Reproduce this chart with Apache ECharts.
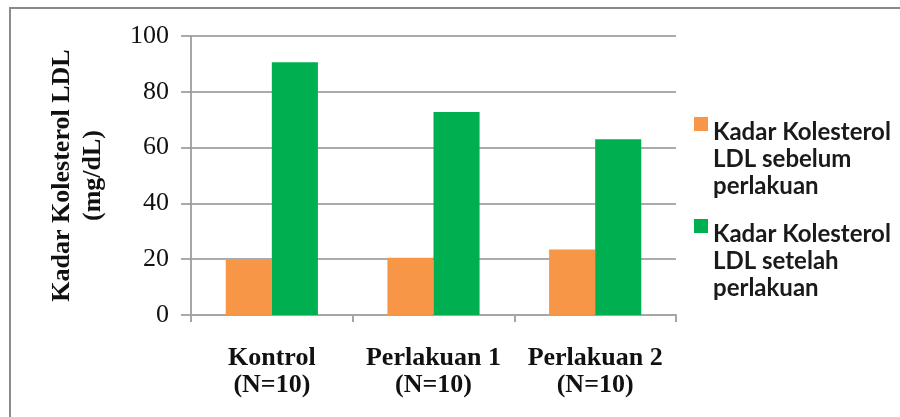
<!DOCTYPE html>
<html>
<head>
<meta charset="utf-8">
<script src="https://cdn.jsdelivr.net/npm/echarts@6/dist/echarts.min.js"></script>
<style>
  html, body { margin: 0; padding: 0; background: #ffffff; }
  #chart { width: 900px; height: 417px; }
</style>
</head>
<body>
<div id="chart"></div>
<script>
// Groups and LDL cholesterol levels (mg/dL), before and after treatment
const categories = ['Kontrol\n(N=10)', 'Perlakuan 1\n(N=10)', 'Perlakuan 2\n(N=10)'];
const seriesNames = ['Kadar Kolesterol LDL sebelum perlakuan', 'Kadar Kolesterol LDL setelah perlakuan'];
const legendLines = [
  ['Kadar Kolesterol', 'LDL sebelum', 'perlakuan'],
  ['Kadar Kolesterol', 'LDL setelah', 'perlakuan']
];
const before = [19.7, 20.5, 23.5];
const after = [90.6, 72.8, 63.0];
const yTicks = [0, 20, 40, 60, 80, 100];

const chart = echarts.init(document.getElementById('chart'), null, { renderer: 'canvas' });

const serif = '"Liberation Serif", "Times New Roman", serif';
const gridColor = '#8f8f8f';

// The legend marker sits beside the first line of each wrapped label:
// two empty spacer lines above the text put that line at the item's centre.
function legendFormatter(name) {
  const lines = legendLines[seriesNames.indexOf(name)];
  return '{g|}\n{g|}\n' + lines.map(function (l) { return '{t|' + l + '}'; }).join('\n');
}

chart.setOption({
  animation: false,
  backgroundColor: '#ffffff',
  graphic: [{
    type: 'polyline',
    shape: { points: [[10, 417], [10, 8], [900, 8]] },
    style: { stroke: '#8a8a8a', lineWidth: 2, fill: null },
    silent: true
  }],
  grid: { left: 191, right: 224, top: 36, bottom: 102 },
  legend: {
    orient: 'vertical',
    left: 689,
    top: 56,
    itemWidth: 14,
    itemHeight: 14,
    itemGap: -35,
    icon: 'rect',
    data: seriesNames,
    formatter: legendFormatter,
    textStyle: {
      rich: {
        g: { lineHeight: 35, fontSize: 10 },
        t: {
          fontFamily: 'Lato, "Noto Sans", sans-serif',
          fontWeight: 'bold',
          fontSize: 24,
          lineHeight: 27,
          color: '#1a1a1a'
        }
      }
    }
  },
  xAxis: {
    type: 'category',
    data: categories,
    axisLine: { lineStyle: { color: '#a6a6a6', width: 2 } },
    axisTick: { show: true, length: 7, lineStyle: { color: '#a6a6a6', width: 2 } },
    axisLabel: {
      interval: 0,
      margin: 30,
      align: 'center',
      fontFamily: serif,
      fontWeight: 'bold',
      fontSize: 26,
      lineHeight: 27,
      color: '#111111'
    }
  },
  yAxis: {
    type: 'value',
    min: yTicks[0],
    max: yTicks[yTicks.length - 1],
    interval: 20,
    name: 'Kadar Kolesterol LDL\n(mg/dL)',
    nameLocation: 'middle',
    nameGap: 82,
    nameTextStyle: {
      fontFamily: serif,
      fontWeight: 'bold',
      fontSize: 26,
      lineHeight: 31,
      color: '#111111'
    },
    axisLine: { show: true, lineStyle: { color: '#a6a6a6', width: 2 } },
    axisTick: { show: true, length: 10, lineStyle: { color: gridColor, width: 1.5 } },
    splitLine: { show: true, lineStyle: { color: gridColor, width: 1.5 } },
    axisLabel: {
      margin: 22,
      fontFamily: serif,
      fontSize: 26,
      color: '#111111'
    }
  },
  series: [
    {
      name: seriesNames[0],
      type: 'bar',
      data: before,
      barGap: '0%',
      barCategoryGap: '43%',
      itemStyle: { color: '#F79646' }
    },
    {
      name: seriesNames[1],
      type: 'bar',
      data: after,
      barGap: '0%',
      barCategoryGap: '43%',
      itemStyle: { color: '#00B050' }
    }
  ]
});
</script>
</body>
</html>
